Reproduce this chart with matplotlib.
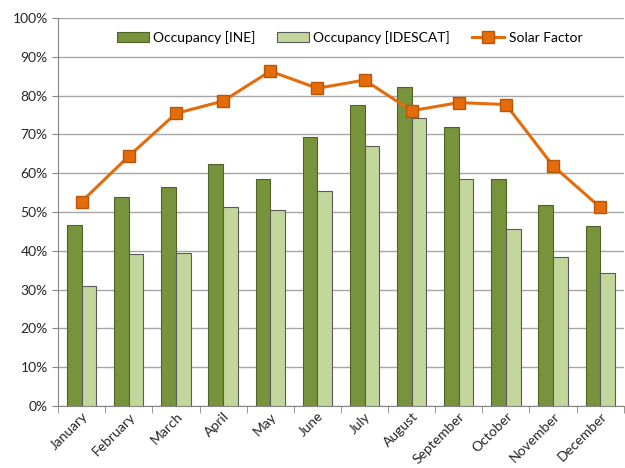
import numpy as np
import matplotlib.pyplot as plt
from matplotlib.ticker import PercentFormatter

# --- Данные ---
months = ["January", "February", "March", "April", "May", "June", "July",
          "August", "September", "October", "November", "December"]
occ_ine = [46.6, 53.8, 56.4, 62.3, 58.4, 69.4, 77.7, 82.1, 72.0, 58.6, 51.8, 46.5]
occ_idescat = [30.9, 39.2, 39.4, 51.2, 50.5, 55.3, 66.9, 74.2, 58.4, 45.7, 38.3, 34.4]
solar_factor = [52.7, 64.4, 75.4, 78.6, 86.3, 81.9, 84.0, 76.1, 78.2, 77.7, 61.9, 51.2]

plt.rcParams['font.family'] = ['Lato', 'DejaVu Sans']

fig = plt.figure(figsize=(6.25, 4.68), dpi=100)
ax = fig.add_axes([0.093, 0.1325, 0.905, 0.829])

x = np.arange(len(months))
w = 0.31
b1 = ax.bar(x - w / 2, occ_ine, width=w, color="#77933C", edgecolor="#4F6228",
            linewidth=0.8, label="Occupancy [INE]", zorder=3)
b2 = ax.bar(x + w / 2, occ_idescat, width=w, color="#C3D69B", edgecolor="#5a5a5a",
            linewidth=0.8, label="Occupancy [IDESCAT]", zorder=3)
l1, = ax.plot(x, solar_factor, color="#E46C0A", linewidth=2.2, marker="s",
              markersize=9, markerfacecolor="#E46C0A", markeredgecolor="#B65708",
              markeredgewidth=1.0, label="Solar Factor", zorder=4)

# --- Оси ---
ax.set_xlim(-0.5, 11.5)
ax.set_ylim(0, 100)
ax.set_yticks(np.arange(0, 101, 10))
ax.yaxis.set_major_formatter(PercentFormatter(decimals=0))
ax.set_xticks(x)
ax.set_xticklabels(months, rotation=45, ha="right", rotation_mode="anchor")
ax.set_xticks(np.arange(-0.5, 12, 1), minor=True)
ax.tick_params(axis="x", which="major", length=0, pad=3)
ax.tick_params(axis="x", which="minor", length=5, color="#868686")
ax.tick_params(axis="y", length=4, color="#868686")
ax.tick_params(labelsize=10, labelcolor="#262626")

ax.grid(axis="y", color="#A6A6A6", linewidth=1.0, zorder=0)
for side in ["top", "right"]:
    ax.spines[side].set_visible(False)
for side in ["left", "bottom"]:
    ax.spines[side].set_color("#868686")

ax.legend(handles=[b1, b2, l1], loc="center", bbox_to_anchor=(0.515, 0.95),
          ncol=3, frameon=False, fontsize=10, handlelength=2.3,
          columnspacing=1.6, handletextpad=0.3)

plt.savefig("out.png", dpi=100)
